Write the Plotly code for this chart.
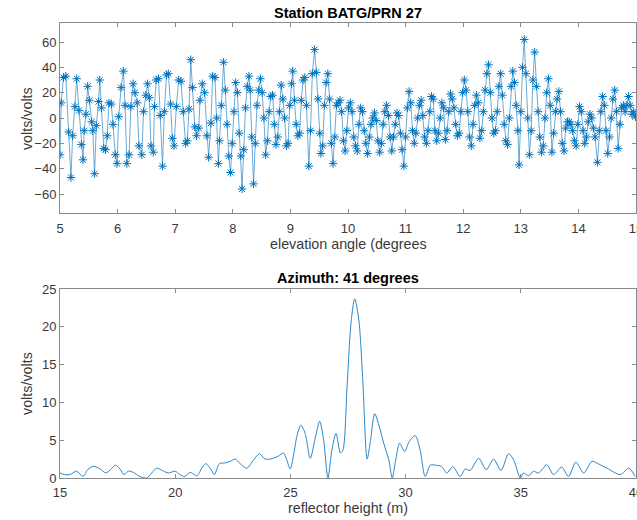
import plotly.graph_objects as go
from plotly.subplots import make_subplots

# ---- top panel: SNR residuals vs elevation angle ----
elev = [5.00, 5.02, 5.06, 5.10, 5.15, 5.19, 5.22, 5.26, 5.29, 5.33, 5.37, 5.40, 5.42, 5.45, 5.48,
        5.51, 5.55, 5.57, 5.60, 5.63, 5.67, 5.69, 5.72, 5.76, 5.79, 5.82, 5.85, 5.89, 5.92, 5.96,
        5.99, 6.02, 6.06, 6.10, 6.13, 6.16, 6.20, 6.23, 6.27, 6.30, 6.34, 6.37, 6.42, 6.45, 6.49,
        6.52, 6.55, 6.58, 6.62, 6.64, 6.67, 6.71, 6.74, 6.78, 6.81, 6.85, 6.88, 6.92, 6.95, 6.98,
        7.02, 7.06, 7.10, 7.14, 7.18, 7.21, 7.24, 7.27, 7.30, 7.34, 7.37, 7.41, 7.43, 7.47, 7.51,
        7.55, 7.58, 7.62, 7.65, 7.69, 7.72, 7.75, 7.77,
        7.80, 7.84, 7.87, 7.90, 7.93, 7.96, 7.99, 8.02, 8.05, 8.08, 8.11, 8.14, 8.16, 8.19, 8.22,
        8.25, 8.28, 8.30, 8.33, 8.36, 8.39, 8.42, 8.45, 8.48, 8.51, 8.54, 8.57, 8.60, 8.63, 8.66,
        8.69, 8.72, 8.75, 8.78, 8.81, 8.84, 8.87, 8.90, 8.93, 8.96, 8.99, 9.02, 9.04, 9.07, 9.10,
        9.13, 9.16, 9.19, 9.22, 9.25, 9.28, 9.32, 9.35, 9.38, 9.42, 9.45, 9.48, 9.51, 9.53, 9.56,
        9.59, 9.62, 9.65, 9.68, 9.71, 9.74, 9.77, 9.80, 9.83, 9.86, 9.89, 9.92, 9.95, 9.98, 10.01,
        10.04, 10.07, 10.10, 10.13, 10.16, 10.19, 10.22, 10.25, 10.28, 10.31, 10.34, 10.37, 10.40,
        10.43, 10.46, 10.49, 10.52, 10.55, 10.58, 10.61, 10.64, 10.67, 10.70, 10.73, 10.76, 10.79,
        10.82, 10.85, 10.88, 10.91, 10.94, 10.97, 11.00, 11.03, 11.06, 11.09, 11.12, 11.15, 11.18,
        11.21, 11.24, 11.27, 11.30, 11.33, 11.36, 11.39, 11.42, 11.45, 11.48, 11.51, 11.54, 11.57,
        11.60, 11.63, 11.66, 11.69, 11.72, 11.75, 11.78, 11.81, 11.84, 11.87, 11.90, 11.93, 11.96,
        11.99, 12.02, 12.05, 12.08, 12.11, 12.14, 12.17, 12.20, 12.23, 12.26, 12.29, 12.32, 12.35,
        12.38, 12.41, 12.44, 12.47, 12.50, 12.53, 12.56, 12.59, 12.62, 12.65, 12.68, 12.71, 12.74,
        12.77, 12.80, 12.83, 12.86, 12.89, 12.92, 12.95, 12.97, 13.00, 13.03, 13.06, 13.09, 13.12,
        13.15, 13.18, 13.21, 13.24, 13.27, 13.30, 13.33, 13.36, 13.39, 13.42, 13.45, 13.48, 13.51,
        13.54, 13.57, 13.60, 13.63, 13.66, 13.69, 13.72, 13.75, 13.78, 13.81, 13.84, 13.87, 13.90,
        13.93, 13.96, 13.99, 14.02, 14.05, 14.08, 14.11, 14.14, 14.17, 14.20, 14.23, 14.26, 14.29,
        14.33, 14.36, 14.39, 14.42, 14.45, 14.48, 14.51, 14.54, 14.57, 14.60, 14.63, 14.66, 14.69,
        14.72, 14.75, 14.78, 14.81, 14.84, 14.87, 14.90, 14.93, 14.96, 14.99]
snr = [-29, 12, 32, 33, -11, -47, -14, 9, 31, 6, -21, -33, -10, 3, 25,
       14, -3, -10, -44, -6, 13, 30, 8, -24, -25, -14, 12, 11, -5, -29,
       -36, 1, 24, 37, 10, -36, -29, 9, 27, 20, 12, -22, -29, 5, 18,
       27, 16, -22, -27, 9, 30, 31, 2, -38, 5, 34, 35, 11, -16, -22,
       9, 30, 29, 5, -20, -18, 7, 46, 24, -7, -14, -8, 14, 27, 20,
       -14, -31, -4, 33, 32, 0, -36, -18,
       10, 44, 22, -5, -30, -43, -20, 5, 28, 20, -12, -30, -56, -25, 8,
       25, 33, 22, -15, -52, -20, 10, 22, 31, 20, 0, -29, -18, 5, 17,
       18, -5, -21, -15, 5, 26, 15, 0, -22, -20, 10, 27, 37, 14, -5,
       -14, -12, 14, 30, 32, 10, -38, -10, 35, 54, 36, 15, -12, -28, -22,
       10, 28, 35, 15, -20, -36, -15, 10, 12, 14, 5, -18, -26, -10, 8,
       12, 5, -15, -22, -26, -5, 8, 5, -10, -20, -28, -15, -5,
       0, 4, -2, -18, -27, -20, -5, 5, 10, 2, -15, -26, -15,
       -5, 4, 2, -12, -25, -38, -15, 8, 21, 12, -10, -20, -12,
       0, 10, 14, 2, -15, -20, -10, 5, 17, 15, -10, -18, -12,
       0, 12, 8, -17, -10, 5, 19, 15, 8, -5, -14, -12, 5,
       20, 30, 22, 5, -15, -22, -5, 10, 18, 12, -16, -10, 5,
       22, 35, 42, 20, 0, -12, -10, 5, 25, 35, 18, -5, -18,
       -21, 0, 25, 37, 28, 10, -10, -37, 5, 40, 62, 35, 0,
       -29, -10, 30, 52, 25, 5, -15, -27, -22, 0, 20, 31, 10,
       -27, -12, 5, 15, 21, 5, -20, -26, -8, -3, -3, -5, -10,
       -18, -22, -5, 9, 5, -10, -20, -15, -3, 3, 0, -8, -15,
       -35, -10, 5, 17, 10, -10, -28, -15, 0, 15, 22, 5, -24,
       -5, 8, 10, 5, 10, 17, 10, 3, 5, 1]

# ---- bottom panel: periodogram ----
rh = [15.0, 15.2, 15.43, 15.72, 16.0, 16.2, 16.45, 16.74, 17.0, 17.25, 17.42, 17.6, 17.78, 17.97,
      18.18, 18.47, 18.76, 18.98, 19.2, 19.5, 19.7, 20.0, 20.2, 20.42, 20.64, 20.8, 20.96, 21.15,
      21.32, 21.52, 21.7, 21.92, 22.17, 22.38, 22.6, 22.82, 23.11, 23.4, 23.66, 23.9, 24.19, 24.48,
      24.7, 24.84, 24.99, 25.13, 25.28, 25.45, 25.64, 25.86, 26.08, 26.27, 26.44, 26.63, 26.8,
      26.98, 27.17, 27.28, 27.46, 27.63, 27.79, 27.97, 28.14, 28.33, 28.47, 28.66, 28.84, 29.05,
      29.27, 29.42, 29.56, 29.74, 29.96, 30.15, 30.42, 30.63, 30.85, 31.07, 31.29, 31.57, 31.79,
      32.05, 32.37, 32.59, 32.8, 33.17, 33.5, 33.82, 34.14, 34.47, 34.69, 34.98, 35.12, 35.34,
      35.55, 35.77, 36.13, 36.42, 36.78, 37.07, 37.39, 37.73, 38.09, 38.38, 38.74, 39.32, 39.68,
      39.97]
amp = [0.66, 0.45, 0.45, 0.9, 0.2, 1.1, 1.55, 1.2, 0.66, 1.3, 1.7, 1.2, 0.45, 0.9,
       0.75, 0.2, 0.0, 0.66, 1.3, 0.9, 0.66, 0.9, 0.45, 0.2, 0.75, 0.5, 0.3, 1.3,
       1.9, 1.3, 0.45, 1.9, 2.0, 2.2, 2.5, 1.9, 1.3, 2.4, 3.2, 2.5, 2.55, 2.9,
       3.3, 2.4, 1.2, 2.9, 5.5, 7.0, 5.9, 2.6, 5.3, 7.5, 5.1, 0.0, 3.7,
       5.9, 3.3, 3.7, 12.1, 20.5, 23.7, 20.9, 13.0, 2.5, 4.8, 8.5, 7.0, 4.6,
       2.4, 0.0, 2.2, 4.6, 3.5, 4.8, 5.6, 3.7, 0.2, 1.7, 1.7, 1.5, 0.66,
       1.5, 0.2, 1.2, 1.0, 2.6, 1.1, 2.5, 1.0, 3.2, 2.4, 0.0, 0.66, 0.3,
       0.9, 0.66, 1.75, 0.45, 1.45, 0.2, 2.1, 0.66, 2.2, 1.85, 1.3, 0.45, 1.3,
       0.2]

top_title = "Station BATG/PRN 27"
bot_title = "Azimuth: 41 degrees"
top_xlabel = "elevation angle (degrees"
bot_xlabel = "reflector height (m)"
ylabel = "volts/volts"

BLUE = "#0072BD"
AX = "#8a8a8a"
FONT = "Liberation Sans, Arial, Helvetica, sans-serif"

fig = make_subplots(rows=2, cols=1)
fig.add_trace(go.Scatter(x=elev, y=snr, mode="lines+markers",
                         line=dict(color="#2a86c8", width=0.7),
                         marker=dict(symbol="asterisk-open", size=7, color=BLUE,
                                     line=dict(color=BLUE, width=1)),
                         showlegend=False), row=1, col=1)
fig.add_trace(go.Scatter(x=rh, y=amp, mode="lines",
                         line=dict(color="#2a86c8", width=1, shape="spline", smoothing=0.8),
                         showlegend=False), row=2, col=1)

axis_common = dict(showline=True, linecolor=AX, linewidth=1, mirror="ticks",
                   ticks="inside", ticklen=4, tickcolor=AX, showgrid=False,
                   zeroline=False, automargin=False, ticklabeloverflow="allow",
                   tickfont=dict(family=FONT, size=13, color="#3a3a3a"))

fig.update_xaxes(range=[5, 15], dtick=1, tick0=5, domain=[0, 1], ticklabelstandoff=3,
                 row=1, col=1, **axis_common)
fig.update_yaxes(range=[-75, 75], tickvals=[-60, -40, -20, 0, 20, 40, 60],
                 domain=[0.5824, 1.0], row=1, col=1, **axis_common)
fig.update_xaxes(range=[15, 40], dtick=5, tick0=15, domain=[0, 1], ticklabelstandoff=2,
                 row=2, col=1, **axis_common)
fig.update_yaxes(range=[0, 25], dtick=5, domain=[0, 0.4154], row=2, col=1, **axis_common)

ann = []
def add_text(t, x, y, size, bold=False, color="#3a3a3a", angle=0):
    ann.append(dict(text=(f"<b>{t}</b>" if bold else t), x=x, y=y, xref="paper", yref="paper",
                    showarrow=False, xanchor="center", yanchor="middle", textangle=angle,
                    font=dict(family=FONT, size=size, color=color)))

add_text(top_title, 0.5, 1.022, 14.5, bold=True, color="#000000")
add_text(bot_title, 0.5, 0.4396, 14.5, bold=True, color="#000000")
add_text(top_xlabel, 0.5, 0.514, 14.3)
add_text(bot_xlabel, 0.5, -0.066, 14.3)
add_text(ylabel, -0.0573, 0.791, 14.3, angle=-90)
add_text(ylabel, -0.0573, 0.2088, 14.3, angle=-90)

fig.update_layout(width=637, height=520, template="none",
                  margin=dict(l=60, r=1, t=23, b=42),
                  paper_bgcolor="white", plot_bgcolor="white",
                  annotations=ann, showlegend=False)

fig.write_html("out.html", config={"displayModeBar": False},
               post_script="document.body.style.margin='0';document.body.style.overflow='hidden';")
